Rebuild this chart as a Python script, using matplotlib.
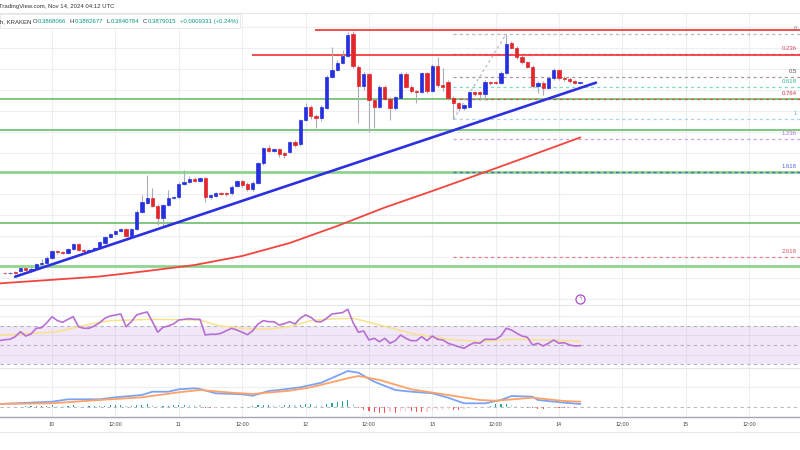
import matplotlib
matplotlib.use('Agg')
import matplotlib.pyplot as plt
import matplotlib.dates as mdates
from matplotlib.lines import Line2D
from matplotlib.patches import Rectangle
from datetime import datetime, timedelta
import numpy as np

plt.rcParams['font.family'] = ['Liberation Sans', 'DejaVu Sans']

# hourly candles, first one Nov 9 15:00 UTC, last one Nov 14 04:00 UTC
opens = [0.29275, 0.2925, 0.29325, 0.2935, 0.29485, 0.29375, 0.2945, 0.2970, 0.29735, 0.30025,
         0.30365, 0.30285, 0.30265, 0.30465, 0.30685, 0.3040, 0.30375, 0.3040, 0.3050, 0.30775,
         0.31035, 0.3120, 0.3135, 0.3145, 0.3110, 0.31435, 0.32315, 0.32775, 0.3300, 0.3260,
         0.31985, 0.32675, 0.3300, 0.33065, 0.3370, 0.33815, 0.33935, 0.33865, 0.33985, 0.33035,
         0.3310, 0.33265, 0.3325, 0.33235, 0.3360, 0.3385, 0.3370, 0.33435, 0.33765, 0.34735,
         0.35485, 0.35365, 0.35435, 0.35235, 0.35315, 0.35815, 0.3570, 0.3690, 0.37565, 0.3710,
         0.36985, 0.3750, 0.3905, 0.39425, 0.39775, 0.40125, 0.4120, 0.39565, 0.38615, 0.39185,
         0.3790, 0.37565, 0.38565, 0.37975, 0.37485, 0.3800, 0.39185, 0.38565, 0.3835, 0.38315,
         0.39235, 0.3835, 0.39615, 0.3865, 0.38785, 0.37985, 0.37735, 0.37515, 0.37565, 0.38285,
         0.38285, 0.38185, 0.38815, 0.3880, 0.38775, 0.39275, 0.40735, 0.40515, 0.40065, 0.39785,
         0.39565, 0.3860, 0.38775, 0.38515, 0.38985, 0.3940, 0.39025, 0.38935, 0.3885, 0.3875]
highs = [0.29325, 0.29325, 0.29375, 0.2955, 0.29525, 0.2955, 0.2975, 0.2995, 0.3010, 0.30425,
         0.30425, 0.3035, 0.30525, 0.3075, 0.3075, 0.3045, 0.3045, 0.30575, 0.3085, 0.3110,
         0.3125, 0.31425, 0.3150, 0.31525, 0.3150, 0.3240, 0.3315, 0.3415, 0.3350, 0.3270,
         0.3270, 0.3340, 0.33125, 0.3380, 0.3440, 0.3410, 0.3405, 0.3405, 0.3405, 0.3320,
         0.33325, 0.33325, 0.3330, 0.3365, 0.33925, 0.33925, 0.3380, 0.3385, 0.3480, 0.3555,
         0.3565, 0.3550, 0.3550, 0.3530, 0.35875, 0.3590, 0.36975, 0.3775, 0.3765, 0.3720,
         0.3765, 0.3915, 0.40565, 0.3990, 0.4040, 0.41315, 0.41375, 0.3965, 0.3930, 0.3925,
         0.3800, 0.3865, 0.3865, 0.3805, 0.3810, 0.3930, 0.3930, 0.3865, 0.38425, 0.3930,
         0.3930, 0.3970, 0.40065, 0.3950, 0.3890, 0.3810, 0.3780, 0.37725, 0.3835, 0.3835,
         0.3835, 0.3890, 0.38875, 0.38875, 0.3935, 0.4120, 0.4085, 0.4060, 0.4015, 0.3985,
         0.3965, 0.3885, 0.3885, 0.3905, 0.39515, 0.39475, 0.3910, 0.3905, 0.3890, 0.38825]
lows = [0.2920, 0.2920, 0.29225, 0.2930, 0.2935, 0.29325, 0.2940, 0.2965, 0.2970, 0.29975,
        0.30225, 0.3020, 0.30225, 0.30425, 0.3035, 0.30325, 0.30325, 0.3035, 0.3045, 0.30725,
        0.3100, 0.3115, 0.3130, 0.3105, 0.3105, 0.3140, 0.32275, 0.32725, 0.3255, 0.3165,
        0.31565, 0.32625, 0.3295, 0.33025, 0.3365, 0.33775, 0.3380, 0.33825, 0.32815, 0.3295,
        0.3305, 0.3315, 0.33125, 0.33175, 0.3355, 0.33575, 0.3335, 0.33375, 0.3370, 0.34675,
        0.3530, 0.3530, 0.3505, 0.3500, 0.3525, 0.35575, 0.35625, 0.3685, 0.3695, 0.3650,
        0.3685, 0.3745, 0.3900, 0.39375, 0.39725, 0.40075, 0.39525, 0.3675, 0.3840, 0.3630,
        0.3650, 0.3750, 0.3790, 0.3690, 0.3740, 0.3795, 0.3850, 0.3825, 0.37735, 0.3825,
        0.3825, 0.3830, 0.38575, 0.3835, 0.3790, 0.36935, 0.3735, 0.37425, 0.3750, 0.3810,
        0.3790, 0.3790, 0.38675, 0.3870, 0.38725, 0.39225, 0.4045, 0.3995, 0.3970, 0.3950,
        0.3850, 0.38235, 0.3815, 0.3845, 0.38925, 0.38925, 0.38875, 0.38775, 0.3870, 0.3870]
closes = [0.2925, 0.29275, 0.29275, 0.29485, 0.2940, 0.29475, 0.2970, 0.2975, 0.29985, 0.30365,
          0.30285, 0.3025, 0.30465, 0.30685, 0.3040, 0.30375, 0.3040, 0.30515, 0.30785, 0.31035,
          0.3120, 0.31365, 0.31435, 0.3110, 0.31435, 0.32315, 0.32815, 0.32985, 0.3260, 0.31985,
          0.3265, 0.32985, 0.33065, 0.3370, 0.33815, 0.33935, 0.33865, 0.33985, 0.33065, 0.3315,
          0.33265, 0.3320, 0.3320, 0.33565, 0.3385, 0.3365, 0.33435, 0.33765, 0.34735, 0.35485,
          0.35365, 0.35435, 0.3520, 0.3515, 0.35815, 0.3565, 0.3690, 0.37565, 0.3710, 0.3700,
          0.3755, 0.3905, 0.39425, 0.39775, 0.40125, 0.41175, 0.3960, 0.38615, 0.39185, 0.3790,
          0.37565, 0.38565, 0.37975, 0.37485, 0.38035, 0.3920, 0.38565, 0.3835, 0.38285, 0.39235,
          0.3835, 0.39615, 0.3865, 0.38565, 0.37985, 0.37735, 0.37485, 0.3765, 0.38285, 0.3820,
          0.38185, 0.38815, 0.38735, 0.3875, 0.39265, 0.40685, 0.40515, 0.40065, 0.39785, 0.39565,
          0.38615, 0.38775, 0.38515, 0.38985, 0.3940, 0.38985, 0.38935, 0.3885, 0.38765, 0.38785]

# moving average on price (hour index -> value)
ma_hours = [-1, 0, 9, 18, 27, 36, 45, 54, 63, 72, 81, 90, 99, 109]
ma_vals = [0.28725, 0.2875, 0.2891, 0.29075, 0.2935, 0.2965, 0.3010, 0.3075, 0.3160, 0.32525,
           0.3335, 0.3420, 0.3506, 0.36025]

# horizontal levels
support_levels = [0.3795, 0.3640, 0.34285, 0.31735, 0.2960]
resistance_levels = [0.4140, 0.40165]
resistance_start = [58.8, 46.85]
fib_levels = [0, 0.236, 0.5, 0.618, 0.764, 1, 1.236, 1.618, 2.618]
fib_labels = ['0', '0.236', '0.5', '0.618', '0.764', '1', '1.236', '1.618', '2.618']
fib_high, fib_low = 0.4120, 0.36935
fib_high_hour, fib_low_hour = 95, 85
trend_hours = [2, 112]
trend_vals = [0.29065, 0.38765]

# RSI, first value at hour -1
rsi = [54.5, 55.5, 55.9, 58.6, 63.8, 59.3, 61.4, 67.3, 67.9, 73.1,
       79.3, 75.2, 73.5, 76.6, 79.3, 68.9, 67.3, 67.3, 69.7, 73.1,
       77.7, 80.0, 81.1, 82.1, 68.9, 74.1, 81.1, 82.8, 84.2, 74.1,
       63.2, 68.3, 69.7, 71.8, 75.9, 76.6, 77.2, 76.6, 76.6, 60.4,
       61.1, 61.1, 62.1, 64.8, 67.3, 65.5, 63.2, 60.7, 64.8, 71.8,
       75.2, 74.1, 74.1, 70.7, 72.1, 74.1, 71.8, 77.7, 81.1, 78.7,
       74.1, 74.1, 77.7, 82.1, 82.8, 83.5, 87.0, 73.1, 63.2, 64.5,
       55.2, 56.9, 53.4, 56.9, 51.8, 54.5, 60.4, 56.9, 54.5, 54.5,
       58.6, 54.5, 59.3, 55.9, 55.2, 51.8, 50.0, 48.2, 46.6, 50.0,
       52.4, 51.8, 55.9, 55.9, 55.9, 59.3, 67.3, 65.5, 62.1, 59.3,
       58.0, 50.0, 51.8, 49.0, 51.8, 55.2, 51.8, 52.4, 50.0, 49.0, 49.3]
rsi_ma_hours = [-1, 3, 10, 14, 17, 20, 28, 37, 39, 41, 45, 50, 54, 58, 62, 66, 68, 71, 77, 84,
                90, 96, 103, 109]
rsi_ma = [60.4, 61.1, 63.8, 69.0, 72.5, 75.2, 76.6, 75.9, 72.5, 69.7, 67.3, 66.3, 69.0, 75.2,
          77.0, 77.7, 75.0, 70.7, 62.1, 55.9, 53.4, 55.9, 55.2, 53.8]

# MACD
macd_hours = [-1, 9, 12, 18, 21, 26, 28, 31, 33, 36, 37, 40, 45, 47, 50, 52, 56, 60, 65, 67,
              70, 74, 77, 81, 84, 87, 91, 94, 96, 100, 101, 106, 109]
macd_vals = [0.00027, 0.00050, 0.00074, 0.00074, 0.00094, 0.00117, 0.00150, 0.00150, 0.00174,
             0.00184, 0.00177, 0.00134, 0.00124, 0.00110, 0.00157, 0.00167, 0.00194, 0.00240,
             0.00357, 0.00340, 0.00250, 0.00167, 0.00150, 0.00134, 0.00090, 0.00034, 0.00034,
             0.00067, 0.00107, 0.00100, 0.00067, 0.00040, 0.00027]
signal_hours = [-1, 9, 18, 26, 33, 37, 43, 47, 54, 58, 65, 67, 71, 77, 84, 90, 93, 100, 106, 109]
signal_vals = [0.00027, 0.00034, 0.00067, 0.00094, 0.00144, 0.00167, 0.00140, 0.00127, 0.00160,
               0.00194, 0.00284, 0.00307, 0.00267, 0.00174, 0.00117, 0.00067, 0.00060, 0.00090,
               0.00057, 0.00050]
hist_vals = [-0.3, -0.3, -0.2, -0.2, 0.2, 0.3, 0.5, 0.6, 0.8, 1.2,
             1.0, 0.8, 1.0, 1.2, 0.6, 0.4, 0.4, 0.6, 0.8, 1.0,
             1.2, 1.2, 1.3, 0.5, 0.8, 1.5, 2.0, 2.5, 1.5, 0.5,
             0.8, 1.0, 1.5, 2.0, 2.0, 1.8, 1.5, 1.2, -1.0, -1.2,
             -1.0, -0.8, -0.5, -0.3, -0.2, -0.5, -0.8, 0.3, 1.2, 1.8,
             1.8, 1.5, 1.2, 1.2, 1.3, 1.2, 2.0, 3.0, 3.0, 2.0,
             1.5, 2.5, 4.0, 4.5, 5.5, 7.0, 3.0, -1.0, -3.0, -4.5,
             -5.5, -6.0, -6.0, -5.5, -6.0, -5.0, -4.0, -4.5, -5.0, -5.5,
             -5.0, -4.0, -3.5, -3.0, -2.5, -3.0, -3.0, -2.0, -1.5, -1.0,
             -0.5, -0.3, 1.0, 2.5, 3.0, 3.0, 2.0, 1.0, -0.5, -1.0,
             -1.5, -2.0, -2.0, -1.5, -1.0, -1.5, -1.5, -1.0, -1.5, -1.0]  # x 1e-4

tick_labels = ['10', '12:00', '11', '12:00', '12', '12:00', '13', '12:00', '14', '12:00', '15', '12:00']

t0 = datetime(2024, 11, 9, 15)


def hx(h):
    return mdates.date2num(t0 + timedelta(hours=float(h)))


hours = np.arange(len(opens))
xs = np.array([hx(h) for h in hours])
xlim = (hx(-0.87), hx(150.64))
tick_pos = [hx(9 + 12 * k) for k in range(len(tick_labels))]
grid_c = '#eceef2'

fig = plt.figure(figsize=(8, 4.5), dpi=100)
ax = fig.add_axes([0, 0.32222, 1, 0.64822])
ax_rsi = fig.add_axes([0, 0.18156, 1, 0.14067], sharex=ax)
ax_macd = fig.add_axes([0, 0.074, 1, 0.10756], sharex=ax)

for a in (ax, ax_rsi, ax_macd):
    a.set_xlim(*xlim)
    a.set_xticks(tick_pos)
    a.set_axisbelow(True)
    a.grid(True, color=grid_c, lw=0.8)
    a.tick_params(left=False, labelleft=False, bottom=False, labelbottom=False)
    for s in a.spines.values():
        s.set_visible(False)
    a.spines['top'].set_visible(True)
    a.spines['top'].set_color('#e3e5ea')
    a.spines['top'].set_linewidth(0.8)

# ---- price pane ----
ax.set_ylim(0.2765, 0.42235)
ax.set_yticks(np.arange(0.4156, 0.27, -0.010475))

for i, lvl in enumerate(support_levels):
    light = i in (2, 4)
    ax.axhline(lvl, color='#8fd48f' if light else '#5cb85c', lw=2.0 if light else 1.1, zorder=1)
for lvl, start in zip(resistance_levels, resistance_start):
    ax.hlines(lvl, hx(start), xlim[1], color='#f23030', lw=1.2, zorder=1)

fib_colors = ['#a7a9b0', '#f23645', '#9a7f86', '#5fcfb0', '#f23645', '#8fc8f0', '#c08ae0', '#3f51c8', '#f06070']
fib_text = ['#787b86', '#e0455a', '#555555', '#2fb897', '#d93040', '#64b5f6', '#b070d0', '#5a67e0', '#e05060']
tr = matplotlib.transforms.blended_transform_factory(ax.transAxes, ax.transData)
for lvl, lab, c, tc in zip(fib_levels, fib_labels, fib_colors, fib_text):
    p = fib_high - lvl * (fib_high - fib_low)
    ax.hlines(p, hx(fib_low_hour), xlim[1], color=c, lw=0.9, ls=(0, (2.5, 2.5)), alpha=0.8, zorder=1.5)
    ax.annotate(lab, xy=(0.996, p), xycoords=tr, xytext=(0, 2.2), textcoords='offset points',
                ha='right', va='bottom', fontsize=4.3, color=tc)
ax.plot([hx(fib_low_hour), hx(fib_high_hour)], [fib_low, fib_high], color='#b2b5be',
        lw=0.8, ls=(0, (2.5, 2.5)), zorder=1.5)

ax.plot([hx(h) for h in ma_hours], ma_vals, color='#f2453d', lw=1.3, zorder=2)

up = np.array(closes) >= np.array(opens)
body_c = np.where(up, '#2630e0', '#e3262b')
ax.vlines(xs, lows, highs, color='#a9adb6', lw=0.8, zorder=3)
bottoms = np.minimum(opens, closes)
heights = np.abs(np.array(closes) - np.array(opens))
ax.bar(xs, heights, bottom=bottoms, width=0.62 / 24, color=body_c, edgecolor=body_c,
       lw=0.5, zorder=4)

ax.plot([hx(h) for h in trend_hours], trend_vals, color='#2d30e0', lw=1.9, zorder=6,
        solid_capstyle='round')

# ---- RSI pane ----
ax_rsi.set_ylim(25.9, 91.4)
ax_rsi.set_yticks([40, 60, 80])
ax_rsi.axhspan(30, 70, color='#b57edc', alpha=0.18, lw=0, zorder=1)
for lvl in (30, 50, 70):
    ax_rsi.axhline(lvl, color='#b0b3bb', lw=0.8, ls=(0, (3, 3)), zorder=1.5)
ax_rsi.plot([hx(h) for h in rsi_ma_hours], rsi_ma, color='#f7e38a', lw=1.1, zorder=2)
ax_rsi.plot([hx(h) for h in range(-1, len(rsi) - 1)], rsi, color='#b76fd1', lw=1.2, zorder=3)

# ---- MACD pane ----
ax_macd.set_ylim(-0.0010, 0.00384)
ax_macd.set_yticks([0.002])
ax_macd.axhline(0, color='#b8bbc2', lw=0.8, ls=(0, (3, 3)), zorder=1)
hist = np.array(hist_vals) * 1e-4
hist_c = []
for k, h in enumerate(hist):
    prev = hist[k - 1] if k > 0 else h
    if h >= 0:
        hist_c.append('#26a69a' if h >= prev else '#b2dfdb')
    else:
        hist_c.append('#ff5252' if h <= prev else '#ffcdd2')
ax_macd.bar(xs, hist, width=0.22 / 24, color=hist_c, zorder=2)
ax_macd.plot([hx(h) for h in macd_hours], macd_vals, color='#7ba3f5', lw=1.3, zorder=3)
ax_macd.plot([hx(h) for h in signal_hours], signal_vals, color='#ffa266', lw=1.3, zorder=3)
ax_macd.spines['bottom'].set_visible(True)
ax_macd.spines['bottom'].set_color('#a3a7ae')
ax_macd.spines['bottom'].set_linewidth(1.0)
ax_macd.tick_params(labelbottom=True, labelsize=3.9, labelcolor='#444444', length=0, pad=3.5)
ax_macd.set_xticklabels(tick_labels)

# ---- header and decorations ----
fig.text(-0.001, 1 - 6.7 / 450, 'TradingView.com, Nov 14, 2024 04:12 UTC', fontsize=4.3,
         color='#333333', va='center', ha='left')
fig.add_artist(Rectangle((0, 1 - 28 / 450), 240 / 800, 13.7 / 450, transform=fig.transFigure,
                         facecolor='white', edgecolor='#e3e5ea', lw=0.6))
yh = 1 - 21.5 / 450
header = [('h, KRAKEN', -0.5, '#333333'), ('O', 33, '#333333'), ('0.3868066', 38.2, '#089981'),
          ('H', 70, '#333333'), ('0.3882677', 74.8, '#089981'), ('L', 106.5, '#333333'),
          ('0.3840784', 110.6, '#089981'), ('C', 143, '#333333'), ('0.3879015', 147.8, '#089981'),
          ('+0.0009331 (+0.24%)', 180, '#089981')]
for txt, px, c in header:
    fig.text(px / 800, yh, txt, fontsize=4.3, color=c, va='center', ha='left')

fig.add_artist(Line2D([0, 1], [1 - 431.7 / 450] * 2, transform=fig.transFigure, color='#e6e8ec', lw=0.8))
fig.add_artist(Line2D([580 / 800], [1 - 298.5 / 450], transform=fig.transFigure, marker='o',
                      markersize=6.5, markerfacecolor='white', markeredgecolor='#a64fc7', mew=0.9))
fig.text(580 / 800, 1 - 298.5 / 450, 'ϟ', fontsize=4, color='#a64fc7', ha='center', va='center',
         family='DejaVu Sans')

fig.savefig('out.png', dpi=100)
